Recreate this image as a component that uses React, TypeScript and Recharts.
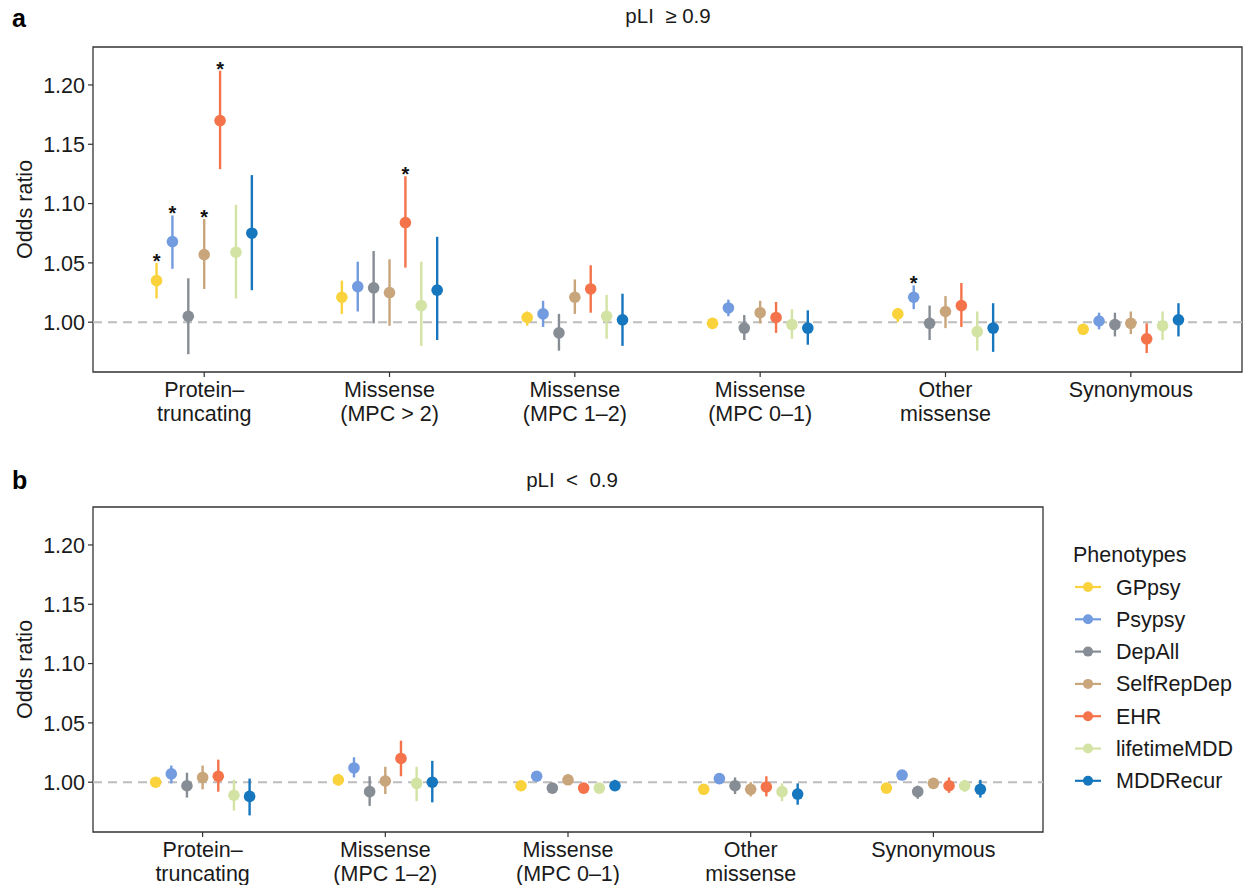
import React from 'react';
import { ScatterChart, Scatter, XAxis, YAxis, ErrorBar, ReferenceLine, ReferenceArea } from 'recharts';

const phenotypes = ['GPpsy', 'Psypsy', 'DepAll', 'SelfRepDep', 'EHR', 'lifetimeMDD', 'MDDRecur'];
const phenoColors = ['#F9D23C', '#729BE0', '#878D94', '#C9A57B', '#F4734A', '#D2E3A4', '#1676BE'];

const categoriesA = [
  ['Protein–', 'truncating'],
  ['Missense', '(MPC > 2)'],
  ['Missense', '(MPC 1–2)'],
  ['Missense', '(MPC 0–1)'],
  ['Other', 'missense'],
  ['Synonymous'],
];
const categoriesB = [
  ['Protein–', 'truncating'],
  ['Missense', '(MPC 1–2)'],
  ['Missense', '(MPC 0–1)'],
  ['Other', 'missense'],
  ['Synonymous'],
];

// rows = phenotypes, columns = categories
const orA = [
  [1.035, 1.021, 1.004, 0.999, 1.007, 0.994],
  [1.068, 1.030, 1.007, 1.012, 1.021, 1.001],
  [1.005, 1.029, 0.991, 0.995, 0.999, 0.998],
  [1.057, 1.025, 1.021, 1.008, 1.009, 0.999],
  [1.170, 1.084, 1.028, 1.004, 1.014, 0.986],
  [1.059, 1.014, 1.005, 0.998, 0.992, 0.997],
  [1.075, 1.027, 1.002, 0.995, 0.995, 1.002],
];
const loA = [
  [1.020, 1.007, 0.997, 0.997, 1.000, 0.992],
  [1.045, 1.009, 0.996, 1.005, 1.011, 0.994],
  [0.973, 0.999, 0.976, 0.985, 0.985, 0.988],
  [1.028, 0.997, 1.007, 0.999, 0.995, 0.990],
  [1.129, 1.046, 1.008, 0.991, 0.996, 0.974],
  [1.020, 0.980, 0.986, 0.986, 0.976, 0.985],
  [1.027, 0.985, 0.980, 0.981, 0.975, 0.988],
];
const hiA = [
  [1.050, 1.035, 1.009, 1.002, 1.012, 0.997],
  [1.090, 1.051, 1.018, 1.019, 1.031, 1.008],
  [1.037, 1.060, 1.007, 1.006, 1.014, 1.008],
  [1.087, 1.053, 1.036, 1.018, 1.022, 1.009],
  [1.212, 1.123, 1.048, 1.017, 1.033, 0.999],
  [1.099, 1.051, 1.023, 1.011, 1.009, 1.009],
  [1.124, 1.072, 1.024, 1.010, 1.016, 1.016],
];
// [phenotype, category] pairs marked with *
const sigA = [[0, 0], [1, 0], [3, 0], [4, 0], [4, 1], [1, 4]];

const orB = [
  [1.000, 1.002, 0.997, 0.994, 0.995],
  [1.007, 1.012, 1.005, 1.003, 1.006],
  [0.997, 0.992, 0.995, 0.997, 0.992],
  [1.004, 1.001, 1.002, 0.994, 0.999],
  [1.005, 1.020, 0.995, 0.996, 0.997],
  [0.989, 0.999, 0.995, 0.992, 0.997],
  [0.988, 1.000, 0.997, 0.990, 0.994],
];
const loB = [
  [0.997, 0.997, 0.995, 0.992, 0.993],
  [0.999, 1.004, 1.003, 1.001, 1.004],
  [0.987, 0.980, 0.992, 0.990, 0.986],
  [0.994, 0.990, 1.000, 0.988, 0.995],
  [0.992, 1.005, 0.993, 0.988, 0.991],
  [0.976, 0.984, 0.993, 0.984, 0.992],
  [0.972, 0.983, 0.993, 0.981, 0.987],
];
const hiB = [
  [1.003, 1.007, 0.999, 0.996, 0.997],
  [1.014, 1.021, 1.007, 1.005, 1.008],
  [1.008, 1.005, 0.997, 1.004, 0.997],
  [1.014, 1.013, 1.004, 1.000, 1.003],
  [1.019, 1.035, 0.997, 1.005, 1.004],
  [1.002, 1.013, 0.997, 0.999, 1.002],
  [1.003, 1.018, 1.002, 0.999, 1.002],
];

const yTicks = [1.0, 1.05, 1.1, 1.15, 1.2];
const yDomain = [0.958, 1.232];

const FONT = '"Liberation Sans", Arial, Helvetica, sans-serif';
const TEXT = '#1a1a1a';
const dodge = 0.6 / 7;

const xOf = (p: number, c: number) => c + 1 + (p - 3) * dodge;

const seriesData = (or: number[][], lo: number[][], hi: number[][], p: number) =>
  or[p].map((v, c) => ({ x: xOf(p, c), y: v, err: [v - lo[p][c], hi[p][c] - v] }));

const CatTick = (props: any) => {
  const { x, y, payload, labels } = props;
  const lines: string[] = labels[Math.round(payload.value) - 1] || [];
  return (
    <text x={x} y={y} textAnchor="middle" fontSize={21.5} fill={TEXT} fontFamily={FONT}>
      {lines.map((l, i) => (
        <tspan key={i} x={x} dy={i === 0 ? 18 : 24}>{l}</tspan>
      ))}
    </text>
  );
};

const YLabel = (props: any) => {
  const vb = props.viewBox || { x: 0, y: 0, height: 0 };
  const cx = vb.x + 25;
  const cy = vb.y + vb.height / 2;
  return (
    <text x={cx} y={cy} transform={`rotate(-90 ${cx} ${cy})`} textAnchor="middle" dominantBaseline="central"
      fontSize={21.5} fill={TEXT} fontFamily={FONT}>Odds ratio</text>
  );
};

const Star = (props: any) => (
  <text x={props.cx} y={props.cy + 5} textAnchor="middle" fontSize={20} fontWeight="bold" fill="#111" fontFamily={FONT}>*</text>
);

type PanelProps = {
  width: number;
  height: number;
  xAxisHeight: number;
  categories: string[][];
  or: number[][];
  lo: number[][];
  hi: number[][];
  sig: number[][];
};

const Panel = ({ width, height, xAxisHeight, categories, or, lo, hi, sig }: PanelProps) => {
  const n = categories.length;
  const xDomain = [0.4, n + 0.6];
  const ticks = categories.map((_, i) => i + 1);
  const starData = sig.map(([p, c]) => ({ x: xOf(p, c), y: hi[p][c] }));
  return (
    <ScatterChart width={width} height={height} margin={{ top: 47, right: 1, bottom: 0, left: 0 }}>
      <XAxis type="number" dataKey="x" domain={xDomain} ticks={ticks} interval={0} allowDataOverflow
        axisLine={false} tickSize={5} tickLine={{ stroke: '#333', strokeWidth: 1.2 }} height={xAxisHeight}
        tick={<CatTick labels={categories} />} />
      <YAxis type="number" dataKey="y" domain={yDomain} ticks={yTicks} allowDataOverflow width={93}
        axisLine={false} tickSize={5} tickMargin={3} tickLine={{ stroke: '#333', strokeWidth: 1.2 }}
        tickFormatter={(v: number) => v.toFixed(2)}
        tick={{ fontSize: 21.5, fill: TEXT, fontFamily: FONT }}
        label={<YLabel />} />
      <ReferenceArea x1={xDomain[0]} x2={xDomain[1]} y1={yDomain[0]} y2={yDomain[1]} ifOverflow="visible"
        fill="none" stroke="#333" strokeWidth={1.3} />
      <ReferenceLine y={1} stroke="#BDBDBD" strokeWidth={2} strokeDasharray="9 6" />
      {phenotypes.map((name, p) => (
        <Scatter key={name} name={name} data={seriesData(or, lo, hi, p)} isAnimationActive={false}
          shape={(s: any) => <circle cx={s.cx} cy={s.cy} r={5.8} fill={phenoColors[p]} />}>
          <ErrorBar dataKey="err" direction="y" width={0} stroke={phenoColors[p]} strokeWidth={2.4} />
        </Scatter>
      ))}
      {starData.length > 0 && (
        <Scatter name="sig" data={starData} isAnimationActive={false} shape={Star} />
      )}
    </ScatterChart>
  );
};

export default function App() {
  const legendTop = 587;
  const legendStep = 32.3;
  return (
    <div style={{ position: 'absolute', left: 0, top: 0, width: 1243, height: 885, background: '#fff', fontFamily: FONT }}>
      <div style={{ position: 'absolute', left: 0, top: 0 }}>
        <Panel width={1243} height={430} xAxisHeight={58} categories={categoriesA} or={orA} lo={loA} hi={hiA} sig={sigA} />
      </div>
      <div style={{ position: 'absolute', left: 0, top: 460 }}>
        <Panel width={1044} height={425} xAxisHeight={53} categories={categoriesB} or={orB} lo={loB} hi={hiB} sig={[]} />
      </div>
      <svg width={1243} height={885} style={{ position: 'absolute', left: 0, top: 0, pointerEvents: 'none' }}>
        <text x={12} y={27} fontSize={25} fontWeight="bold" fill="#000" fontFamily={FONT}>a</text>
        <text x={668} y={23} textAnchor="middle" fontSize={20.5} fill={TEXT} fontFamily={FONT}>{'pLI\u00A0\u00A0≥\u00A00.9'}</text>
        <text x={12} y={489} fontSize={25} fontWeight="bold" fill="#000" fontFamily={FONT}>b</text>
        <text x={572} y={487} textAnchor="middle" fontSize={20.5} fill={TEXT} fontFamily={FONT}>{'pLI\u00A0\u00A0<\u00A0\u00A00.9'}</text>
        <text x={1073} y={562} fontSize={21.5} fill={TEXT} fontFamily={FONT}>Phenotypes</text>
        {phenotypes.map((name, p) => {
          const cy = legendTop + p * legendStep;
          return (
            <g key={name}>
              <line x1={1075} x2={1101} y1={cy} y2={cy} stroke={phenoColors[p]} strokeWidth={2.2} />
              <circle cx={1088} cy={cy} r={5} fill={phenoColors[p]} />
              <text x={1116} y={cy + 7.5} fontSize={21.5} fill={TEXT} fontFamily={FONT}>{name}</text>
            </g>
          );
        })}
      </svg>
    </div>
  );
}
